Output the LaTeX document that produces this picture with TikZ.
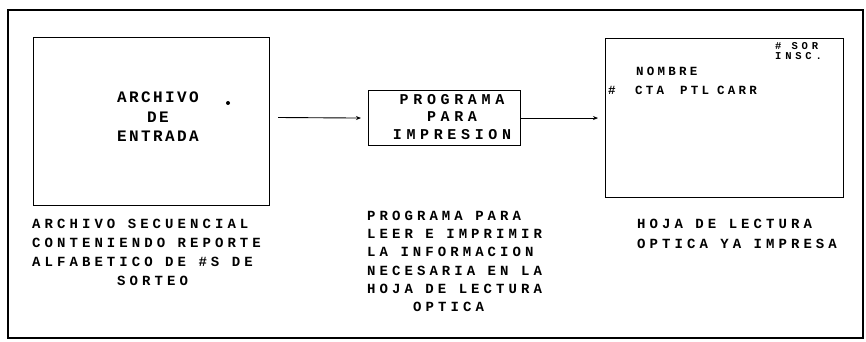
\documentclass[tikz,border=0pt]{standalone}
\usepackage{fontspec}
\setmainfont{Liberation Mono}
\usetikzlibrary{arrows.meta}
\newfontfamily\boxfont[LetterSpace=15]{Liberation Mono}
\newfontfamily\progfont[LetterSpace=31]{Liberation Mono}
\newfontfamily\capfont[LetterSpace=29]{Liberation Mono}
\newfontfamily\formfont[LetterSpace=26]{Liberation Mono}
\newfontfamily\tinyfont[LetterSpace=36]{Liberation Mono}
\begin{document}
\begin{tikzpicture}[x=1pt,y=-1pt,
  frame/.style={draw=black,line width=1.1pt},
  boxtext/.style={inner sep=0pt,align=center,font=\boxfont\bfseries\fontsize{16}{19.5}\selectfont},
  captext/.style={inner sep=0pt,anchor=north west,align=left,font=\capfont\bfseries\fontsize{14}{19}\selectfont},
  formtext/.style={inner sep=0pt,anchor=west,font=\formfont\bfseries\fontsize{12.5}{12}\selectfont},
  tinytext/.style={inner sep=0pt,anchor=west,font=\tinyfont\bfseries\fontsize{10.5}{9}\selectfont},
  flow/.style={line width=0.9pt,-{Stealth[length=5pt,width=4pt]}}]
\useasboundingbox (0,0) rectangle (866,342);
% outer frame
\draw[frame] (8,10) rectangle (863,338);
% boxes
\node[frame,minimum width=236pt,minimum height=168pt,anchor=north west,inner sep=0pt] (archivo) at (33,37) {};
\node[frame,minimum width=152pt,minimum height=55pt,anchor=north west,inner sep=0pt] (programa) at (368,90) {};
\node[frame,minimum width=238pt,minimum height=159pt,anchor=north west,inner sep=0pt] (hoja) at (605,38) {};
% box texts
\node[boxtext] (archtxt) at (158,117) {ARCHIVO\\DE\\ENTRADA};
\fill (228,103) circle (2pt);
\node[boxtext,font=\progfont\bfseries\fontsize{15}{17.5}\selectfont] (progtxt) at (452,117) {PROGRAMA\\PARA\\IMPRESION};
\node[tinytext] (sor) at (775,46) {\# SOR};
\node[tinytext] (insc) at (775,56) {INSC.};
\node[formtext] (nombre) at (636,71) {NOMBRE};
\node[formtext] (hash) at (608,90) {\#};
\node[formtext] (ctaw) at (635,90) {CTA};
\node[formtext] (ptl) at (680,90) {PTL};
\node[formtext] (carr) at (717,90) {CARR};
% connectors
\coordinate (a1) at (278,117.5);
\draw[flow] (a1) -- ([xshift=-7pt]programa.west);
\draw[flow] (programa.east) -- ([xshift=-7pt]hoja.west);
% captions
\node[captext] (cap1) at (32,219) {ARCHIVO SECUENCIAL\\CONTENIENDO REPORTE\\ALFABETICO DE \#S DE\\\hspace*{85pt}SORTEO};
\node[captext,font=\capfont\bfseries\fontsize{14}{18.2}\selectfont] (cap2) at (367,211) {PROGRAMA PARA\\LEER E IMPRIMIR\\LA INFORMACION\\NECESARIA EN LA\\HOJA DE LECTURA\\\hspace*{46pt}OPTICA};
\node[captext,font=\capfont\bfseries\fontsize{14}{20}\selectfont] (cap3) at (637,219) {HOJA DE LECTURA\\OPTICA YA IMPRESA};
\end{tikzpicture}
\end{document}
